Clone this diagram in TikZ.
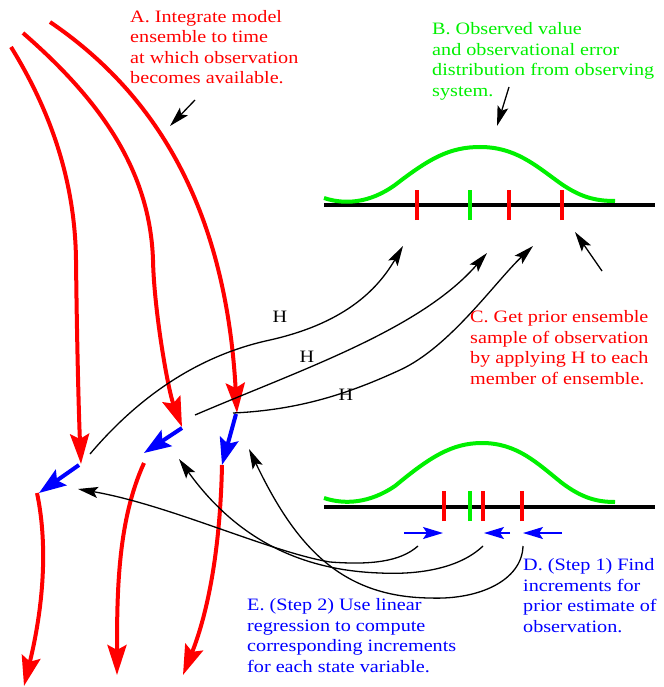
\documentclass[tikz,border=0pt]{standalone}
\usepackage{fontspec}
\setmainfont[FakeStretch=1.16]{Liberation Serif}
\usetikzlibrary{arrows.meta}
\definecolor{fred}{RGB}{255,0,0}
\definecolor{fgreen}{RGB}{0,240,0}
\definecolor{fblue}{RGB}{0,0,255}
\begin{document}
\begin{tikzpicture}[x=1pt,y=-1pt,
  traj/.style={draw=fred,line width=4pt},
  redtip/.style={-{Stealth[length=30pt,width=19pt,inset=5pt]}},
  incr/.style={draw=fblue,line width=4pt,-{Stealth[length=27pt,width=19pt,inset=5pt]}},
  smallincr/.style={draw=fblue,line width=1.5pt,-{Stealth[length=20pt,width=12pt,inset=4pt]}},
  thin/.style={draw=black,line width=1.3pt,-{Stealth[length=20pt,width=11pt,inset=4pt]}},
  axisline/.style={draw=black,line width=4pt},
  pdf/.style={draw=fgreen,line width=4pt},
  redtick/.style={draw=fred,line width=3.5pt},
  greentick/.style={draw=fgreen,line width=3.5pt},
  lbl/.style={font=\fontsize{17.4}{20.5}\selectfont,align=left,anchor=north west,inner sep=0pt},
  hlbl/.style={font=\fontsize{17.4}{20.5}\selectfont,inner sep=0pt}
]
\useasboundingbox (0,0) rectangle (663,687);

% ---------- key points ----------
\coordinate (r1s) at (11,47);   \coordinate (r1e) at (81,464);
\coordinate (r2s) at (23,33);   \coordinate (r2e) at (182,427);
\coordinate (r3s) at (50,22);   \coordinate (r3e) at (237,413);
\coordinate (b1s) at (79,465);  \coordinate (b1e) at (39,493);
\coordinate (b2s) at (182,428); \coordinate (b2e) at (144,453);
\coordinate (b3s) at (236,414); \coordinate (b3e) at (222,465);
\coordinate (l1s) at (37,493);  \coordinate (l1e) at (24,686);
\coordinate (l2s) at (144,463); \coordinate (l2e) at (117,675);
\coordinate (l3s) at (222,465); \coordinate (l3e) at (183,675);

% ---------- red trajectories (forecast) ----------
\draw[traj,redtip] (r1s) .. controls (50,110) and (75,180) .. (76,260)
                        .. controls (77,350) and (79,420) .. (r1e);
\draw[traj,redtip] (r2s) .. controls (100,100) and (150,170) .. (153,260)
                        .. controls (154,310) and (168,390) .. (r2e);
\draw[traj,redtip] (r3s) .. controls (150,90) and (225,200) .. (r3e);

% ---------- blue increments of state ----------
\draw[incr] (b1s) -- (b1e);
\draw[incr] (b2s) -- (b2e);
\draw[incr] (b3s) -- (b3e);

% ---------- red trajectories (continued) ----------
\draw[traj,redtip] (l1s) .. controls (47,540) and (45,600) .. (l1e);
\draw[traj,redtip] (l2s) .. controls (118,520) and (117,590) .. (l2e);
\draw[traj,redtip] (l3s) .. controls (220,560) and (205,620) .. (l3e);

% ---------- upper observation axis ----------
\coordinate (ua1) at (324,205); \coordinate (ua2) at (655,205);
\draw[axisline] (ua1) -- (ua2);
\draw[pdf] (324,198) .. controls (345,205) and (370,203) .. (395,185)
                     .. controls (430,158) and (450,147) .. (480,147)
                     .. controls (515,147) and (535,165) .. (560,183)
                     .. controls (580,197) and (595,201) .. (615,201);
\coordinate (ut1) at (417,205); \coordinate (ut2) at (470,205);
\coordinate (ut3) at (509,205); \coordinate (ut4) at (562,205);
\draw[redtick]   ([yshift=-15pt]ut1) -- ([yshift=15pt]ut1);
\draw[greentick] ([yshift=-15pt]ut2) -- ([yshift=15pt]ut2);
\draw[redtick]   ([yshift=-15pt]ut3) -- ([yshift=15pt]ut3);
\draw[redtick]   ([yshift=-15pt]ut4) -- ([yshift=15pt]ut4);

% ---------- lower observation axis ----------
\coordinate (la1) at (324,507); \coordinate (la2) at (655,507);
\draw[axisline] (la1) -- (la2);
\draw[pdf] (324,498) .. controls (345,505) and (370,503) .. (395,486)
                     .. controls (430,457) and (452,443) .. (482,443)
                     .. controls (517,443) and (537,463) .. (562,483)
                     .. controls (582,498) and (597,502) .. (615,502);
\coordinate (lt1) at (444,506); \coordinate (lt2) at (470,506);
\coordinate (lt3) at (483,506); \coordinate (lt4) at (522,506);
\draw[redtick]   ([yshift=-15pt]lt1) -- ([yshift=15pt]lt1);
\draw[greentick] ([yshift=-15pt]lt2) -- ([yshift=15pt]lt2);
\draw[redtick]   ([yshift=-15pt]lt3) -- ([yshift=15pt]lt3);
\draw[redtick]   ([yshift=-15pt]lt4) -- ([yshift=15pt]lt4);

% ---------- observation increments ----------
\coordinate (i1s) at (404,533); \coordinate (i1e) at (443,533);
\coordinate (i2s) at (510,533); \coordinate (i2e) at (484,533);
\coordinate (i3s) at (562,533); \coordinate (i3e) at (523,533);
\draw[smallincr] (i1s) -- (i1e);
\draw[smallincr] (i2s) -- (i2e);
\draw[smallincr] (i3s) -- (i3e);

% ---------- H: forward operator ----------
\coordinate (h1s) at (90,454);  \coordinate (h1e) at (403,246);
\coordinate (h2s) at (195,415); \coordinate (h2e) at (487,253);
\coordinate (h3s) at (233,413); \coordinate (h3e) at (533,246);
\draw[thin] (h1s) .. controls (140,395) and (200,355) .. (270,340)
                  .. controls (350,322) and (380,285) .. (h1e);
\draw[thin] (h2s) .. controls (300,370) and (420,330) .. (h2e);
\draw[thin] (h3s) .. controls (300,410) and (350,393) .. (400,370)
                  .. controls (450,347) and (495,282) .. (h3e);
\node[hlbl] (H1) at (280,317) {H};
\node[hlbl] (H2) at (307,357) {H};
\node[hlbl] (H3) at (346,395) {H};

% ---------- regression back to state ----------
\coordinate (ra) at (418,546); \coordinate (rae) at (78,489);
\coordinate (rb) at (483,546); \coordinate (rbe) at (179,459);
\coordinate (rc) at (523,546); \coordinate (rce) at (249,449);
\draw[thin] (ra) .. controls (400,562) and (370,565) .. (330,562)
                 .. controls (270,552) and (170,505) .. (rae);
\draw[thin] (rb) .. controls (460,568) and (420,575) .. (380,573)
                 .. controls (290,570) and (230,530) .. (rbe);
\draw[thin] (rc) .. controls (522,580) and (480,600) .. (430,598)
                 .. controls (340,597) and (295,545) .. (rce);

% ---------- pointers ----------
\coordinate (pAs) at (195,100); \coordinate (pAe) at (170,126);
\coordinate (pBs) at (509,87);  \coordinate (pBe) at (497,126);
\coordinate (pCs) at (602,271); \coordinate (pCe) at (575,232);
\draw[thin] (pAs) -- (pAe);
\draw[thin] (pBs) -- (pBe);
\draw[thin] (pCs) -- (pCe);

% ---------- labels ----------
\node[lbl,text=fred] (A) at (130,9.8) {A. Integrate model\\ensemble to time\\at which observation\\becomes available.};
\node[lbl,text=fgreen] (B) at (432,22.5) {B. Observed value\\and observational error\\distribution from observing\\system.};
\node[lbl,text=fred] (C) at (470,310.5) {C. Get prior ensemble\\sample of observation\\by applying H to each\\member of ensemble.};
\node[lbl,text=fblue] (D) at (523,558.5) {D. (Step 1) Find\\increments for\\prior estimate of\\observation.};
\node[lbl,text=fblue] (E) at (247,598.5) {E. (Step 2) Use linear\\regression to compute\\corresponding increments\\for each state variable.};
\end{tikzpicture}
\end{document}
